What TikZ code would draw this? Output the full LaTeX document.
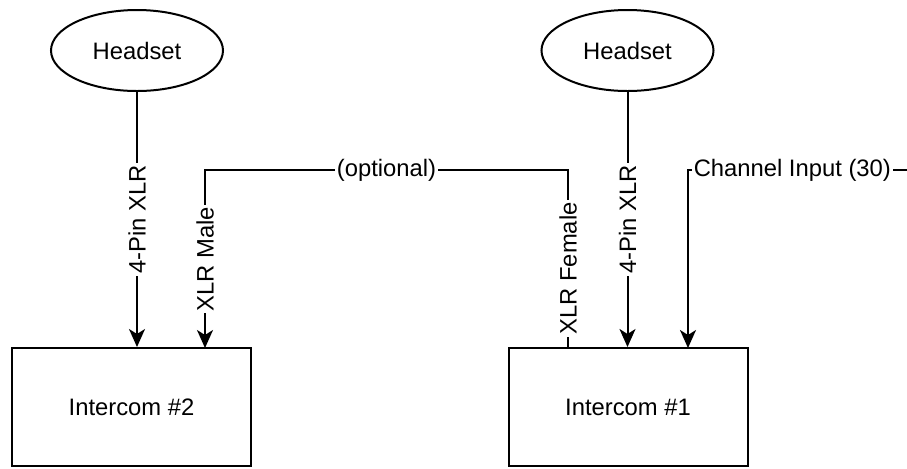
\documentclass[tikz,border=0pt]{standalone}
\usepackage{fontspec}
\setmainfont{Liberation Sans}
\usetikzlibrary{shapes.geometric,arrows.meta,calc}
\begin{document}
\begin{tikzpicture}[x=0.5pt,y=-0.5pt,
  every node/.style={font=\fontsize{11.9}{14}\selectfont},
  headset/.style={ellipse, draw, line width=1pt, minimum width=86pt, minimum height=40.5pt, inner sep=0pt},
  device/.style={rectangle, draw, line width=1pt, minimum width=119.5pt, minimum height=59pt, inner sep=0pt},
  wire/.style={line width=1pt},
  arr/.style={wire, -{Stealth[length=9pt,width=8pt,inset=2.5pt]}},
  vlbl/.style={fill=white, inner sep=1pt, rotate=90},
  hlbl/.style={fill=white, inner sep=1pt}
]
\useasboundingbox (0,0) rectangle (907,468);
\node[headset] (h2) at (137,50.5) {Headset};
\node[headset] (h1) at (627.5,50.5) {Headset};
\node[device] (i2) at (131.5,407) {Intercom \#2};
\node[device] (i1) at (628,407) {Intercom \#1};
\coordinate (fem) at (568,348);
\coordinate (male) at (205,348);
\coordinate (chin) at (688,348);
\coordinate (chsrc) at (910,170);
\draw[arr] (h2.south) -- node[vlbl]{4-Pin XLR} (h2.south |- i2.north);
\draw[arr] (h1.south) -- node[vlbl]{4-Pin XLR} (h1.south |- i1.north);
\draw[arr] (fem) -- node[vlbl, pos=0.447]{XLR Female} (fem |- chsrc)
  -- node[hlbl]{(optional)} (male |- chsrc)
  -- node[vlbl]{XLR Male} (male);
\draw[arr] (chsrc) -- node[hlbl, pos=0.53]{Channel Input (30)} (chin |- chsrc) -- (chin);
\end{tikzpicture}
\end{document}
